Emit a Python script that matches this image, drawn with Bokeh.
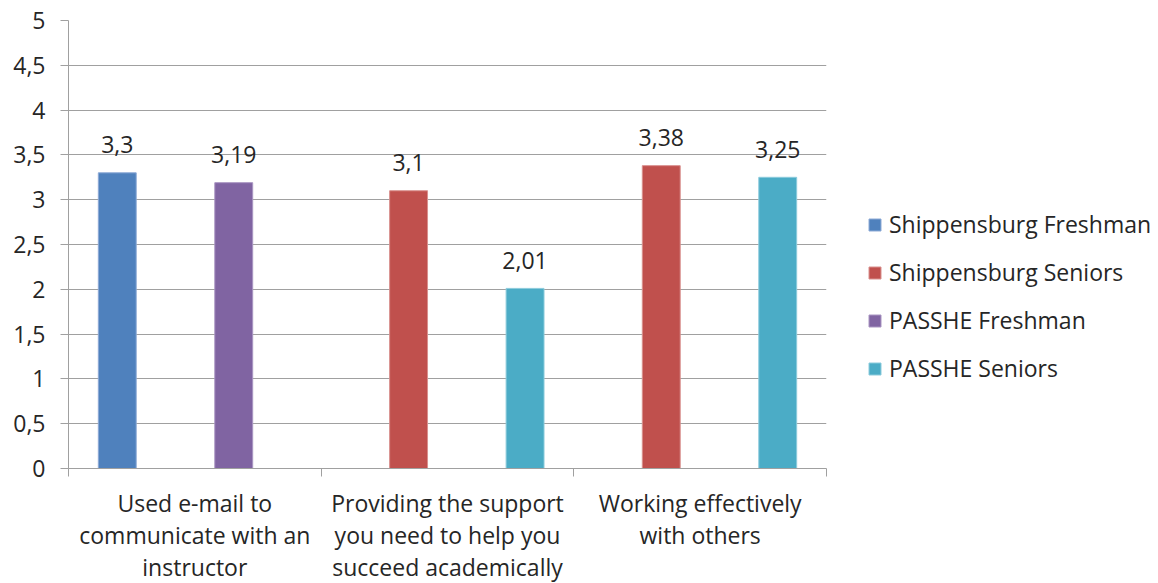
import math
from bokeh.plotting import figure
from bokeh.models import ColumnDataSource, FixedTicker, Legend, LegendItem
from bokeh.embed import file_html
from bokeh.resources import INLINE

# Survey items (x-axis categories)
categories = [
    "Used e-mail to\ncommunicate with an\ninstructor",
    "Providing the support\nyou need to help you\nsucceed academically",
    "Working effectively\nwith others",
]
nan = float("nan")
series_names = ["Shippensburg Freshman", "Shippensburg Seniors", "PASSHE Freshman", "PASSHE Seniors"]
ship_freshman = [3.3, nan, nan]
ship_seniors = [nan, 3.1, 3.38]
passhe_freshman = [3.19, nan, nan]
passhe_seniors = [nan, 2.01, 3.25]
y_ticks = [0, 0.5, 1, 1.5, 2, 2.5, 3, 3.5, 4, 4.5, 5]

series_values = [ship_freshman, ship_seniors, passhe_freshman, passhe_seniors]
colors = ["#4F81BD", "#C0504D", "#8064A2", "#4BACC6"]
edge_colors = ["#8DAAD6", "#D9908E", "#A995C2", "#8CCBDC"]
offsets = [-0.307, -0.154, 0.154, 0.307]
bar_width = 0.15

FONT = "Open Sans"
FONT_SIZE = "23px"
TEXT_COLOR = "#262626"
GRID_COLOR = "#A0A0A0"


def fmt(v):
    return ("%g" % v).replace(".", ",")


p = figure(
    frame_width=758, frame_height=448,
    x_range=(0, 3), y_range=(0, 5),
    output_backend="svg", toolbar_location=None,
    min_border_left=68, min_border_right=0,
    min_border_top=20, min_border_bottom=0,
)
p.outline_line_color = None
p.background_fill_color = "white"
p.border_fill_color = "white"

centers = [i + 0.5 for i in range(len(categories))]
items = []
for name, vals, col, ecol, off in zip(series_names, series_values, colors, edge_colors, offsets):
    src = ColumnDataSource(dict(x=[c + off for c in centers], top=vals))
    r = p.vbar(x="x", top="top", width=bar_width, source=src,
               fill_color=col, line_color=ecol, line_width=1)
    items.append(LegendItem(label=name, renderers=[r]))
    # value labels above each drawn bar
    lx, ly, lt = [], [], []
    for c, v in zip(centers, vals):
        if not math.isnan(v):
            lx.append(c + off)
            ly.append(v)
            lt.append(fmt(v))
    lsrc = ColumnDataSource(dict(x=lx, y=ly, t=lt))
    p.text(x="x", y="y", text="t", source=lsrc, text_align="center",
           text_baseline="alphabetic", y_offset=-28,
           text_font={"value": FONT}, text_font_size=FONT_SIZE, text_color=TEXT_COLOR)

# Y axis
p.yaxis.ticker = FixedTicker(ticks=y_ticks)
p.yaxis.major_label_overrides = {t: fmt(t) for t in y_ticks}
p.yaxis.axis_line_color = GRID_COLOR
p.yaxis.major_tick_line_color = GRID_COLOR
p.yaxis.major_tick_out = 8
p.yaxis.major_tick_in = 0
p.yaxis.minor_tick_line_color = None
p.yaxis.major_label_text_font = FONT
p.yaxis.major_label_text_font_size = FONT_SIZE
p.yaxis.major_label_text_color = TEXT_COLOR
p.yaxis.major_label_standoff = 15

# X axis: labels at category centres, tick marks at category boundaries
p.xaxis.ticker = FixedTicker(ticks=centers, minor_ticks=[0, 1, 2, 3])
p.xaxis.major_label_overrides = {c: lab for c, lab in zip(centers, categories)}
p.xaxis.axis_line_color = GRID_COLOR
p.xaxis.major_tick_line_color = None
p.xaxis.minor_tick_line_color = GRID_COLOR
p.xaxis.minor_tick_out = 8
p.xaxis.minor_tick_in = 0
p.xaxis.major_label_text_font = FONT
p.xaxis.major_label_text_font_size = FONT_SIZE
p.xaxis.major_label_text_color = TEXT_COLOR
p.xaxis.major_label_standoff = 10
p.xaxis.major_label_text_line_height = 1.0

p.xgrid.grid_line_color = None
p.ygrid.ticker = FixedTicker(ticks=y_ticks)
p.ygrid.grid_line_color = GRID_COLOR
p.ygrid.grid_line_width = 1

legend = Legend(items=items, location=(41, 84),
                glyph_width=15, glyph_height=15, label_standoff=7,
                label_height=20, spacing=16, padding=0, margin=0,
                border_line_color=None, background_fill_alpha=0,
                label_text_font=FONT, label_text_font_size=FONT_SIZE,
                label_text_color=TEXT_COLOR)
p.add_layout(legend, "right")

open("out.html", "w").write(file_html(p, INLINE))
